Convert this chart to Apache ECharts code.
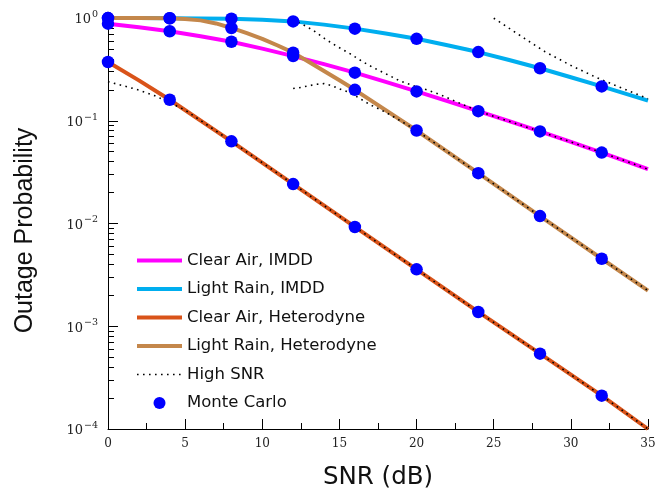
<!DOCTYPE html>
<html>
<head>
<meta charset="utf-8">
<script src="https://cdn.jsdelivr.net/npm/echarts@6/dist/echarts.min.js"></script>
<style>
html,body{margin:0;padding:0;background:#fff;}
#chart{width:670px;height:495px;}
</style>
</head>
<body>
<div id="chart"></div>
<script>
// ---- data ----
const snrMC = [0, 4, 8, 12, 16, 20, 24, 28, 32];
const mcClearImdd = [0.881, 0.743, 0.587, 0.426, 0.294, 0.193, 0.124, 0.0787, 0.0490];
const mcRainImdd  = [0.998, 0.995, 0.985, 0.927, 0.788, 0.627, 0.466, 0.324, 0.216];
const mcClearHet  = [0.373, 0.160, 0.0630, 0.0242, 0.00925, 0.00358, 0.001377, 0.000541, 0.000211];
const mcRainHet   = [0.998, 0.995, 0.80, 0.46, 0.200, 0.0804, 0.0309, 0.0118, 0.00454];

const snrClearImdd = [0, 2, 4, 6, 8, 10, 12, 14, 16, 18, 20, 22, 24, 26, 28, 30, 32, 35];
const clearImdd = [0.881, 0.812, 0.743, 0.664, 0.587, 0.503, 0.426, 0.356, 0.294, 0.239, 0.193, 0.155, 0.124, 0.0990, 0.0787, 0.0622, 0.0490, 0.0338];
const snrRainImdd = [0, 2, 4, 6, 8, 10, 12, 14, 16, 18, 20, 22, 24, 26, 28, 30, 32, 35];
const rainImdd  = [0.999, 0.998, 0.995, 0.991, 0.985, 0.962, 0.927, 0.862, 0.788, 0.706, 0.627, 0.543, 0.466, 0.390, 0.324, 0.265, 0.216, 0.157];
const snrClearHet = [0, 2, 4, 8, 12, 16, 20, 24, 28, 32, 35];
const clearHet  = [0.373, 0.247, 0.160, 0.0630, 0.0242, 0.00925, 0.00358, 0.001377, 0.000541, 0.000211, 0.000100];
const snrRainHet = [0, 2, 4, 5, 6, 7, 8, 9, 10, 11, 12, 13, 14, 15, 16, 20, 24, 28, 32, 35];
const rainHet   = [0.999, 0.999, 0.995, 0.980, 0.948, 0.885, 0.80, 0.712, 0.627, 0.540, 0.46, 0.375, 0.305, 0.248, 0.200, 0.0804, 0.0309, 0.0118, 0.00454, 0.00222];

// High SNR approximations (dotted)
const hsClearHetX = [0, 1, 2, 3, 4, 5, 8, 12, 16, 20, 24, 28, 32, 35];
const hsClearHetY = [0.240, 0.219, 0.199, 0.176, 0.150, 0.127, 0.063, 0.0242, 0.00925, 0.00358, 0.001377, 0.000541, 0.000211, 0.000100];
const hsRainHetX = [12, 12.5, 13, 13.5, 14, 14.5, 15, 15.5, 16, 17, 18, 19, 20, 24, 28, 32, 35];
const hsRainHetY = [0.206, 0.211, 0.219, 0.226, 0.230, 0.220, 0.204, 0.192, 0.176, 0.143, 0.121, 0.099, 0.0804, 0.0309, 0.0118, 0.00454, 0.00222];
const hsClearImddX = [12, 12.44, 13.3, 14.06, 14.82, 15.68, 16.44, 17.19, 18.06, 18.92, 19.79, 20.66, 21.5, 22.5, 24, 28, 32, 35];
const hsClearImddY = [0.975, 0.895, 0.759, 0.627, 0.532, 0.450, 0.381, 0.329, 0.284, 0.244, 0.219, 0.200, 0.180, 0.155, 0.124, 0.0787, 0.049, 0.0338];
const hsRainImddX = [25, 25.16, 26.71, 28.32, 29.96, 31.63, 33.36, 35];
const hsRainImddY = [0.995, 0.963, 0.675, 0.470, 0.348, 0.265, 0.206, 0.164];

const xTicks = [0, 5, 10, 15, 20, 25, 30, 35];
const yDecades = [1e-4, 1e-3, 1e-2, 1e-1, 1];

const names = ['Clear Air, IMDD', 'Light Rain, IMDD', 'Clear Air, Heterodyne', 'Light Rain, Heterodyne', 'High SNR', 'Monte Carlo'];
const colors = ['#FF00FF', '#00AEEF', '#D95319', '#C4874B', '#000000', '#0000FF'];

// ---- build ----
const zip = (xs, ys) => xs.map((x, i) => [x, ys[i]]);
// minor tick positions (2..9 per decade), expressed in decades for an overlay value axis
const minorYExp = [];
yDecades.slice(0, -1).forEach(d => { for (let k = 2; k <= 9; k++) minorYExp.push(Math.log10(d * k)); });

const solid = (name, xs, ys, color) => ({
  name, type: 'line', data: zip(xs, ys), symbol: 'none', smooth: false,
  clip: false, z: 2, lineStyle: { color, width: 4, join: 'round', cap: 'butt' },
  itemStyle: { color, opacity: 0 }
});
const dotted = (xs, ys) => ({
  name: 'High SNR', type: 'line', data: zip(xs, ys), symbol: 'none', smooth: false,
  clip: false, z: 3, lineStyle: { color: '#000', width: 1.6, type: [1.6, 4.4] },
  itemStyle: { color: '#000', opacity: 0 }
});
const mcData = [];
[mcClearImdd, mcRainImdd, mcClearHet, mcRainHet].forEach(arr => arr.forEach((v, i) => mcData.push([snrMC[i], v])));

const supFmt = v => {
  const e = Math.round(Math.log10(v));
  return '{b|10}{s|' + (e < 0 ? '\u2212' + (-e) : e) + '}';
};

const chart = echarts.init(document.getElementById('chart'), null, { renderer: 'canvas' });
chart.setOption({
  animation: false,
  backgroundColor: '#fff',
  grid: { left: 108, right: 22, top: 18, bottom: 62 },
  legend: {
    orient: 'vertical', left: 135, top: 252, padding: 0,
    itemWidth: 45, itemHeight: 12, itemGap: 11.5, itemTextGap: 8,
    data: names,
    textStyle: { fontFamily: 'DejaVu Sans', fontSize: 16.5, color: '#111' },
    lineStyle: { width: 'inherit' }
  },
  xAxis: {
    type: 'value', min: 0, max: 35, interval: 5,
    name: 'SNR (dB)', nameLocation: 'middle', nameGap: 36,
    nameTextStyle: { fontFamily: 'DejaVu Sans', fontSize: 24.5, color: '#111' },
    axisLine: { show: true, onZero: false, lineStyle: { color: '#000', width: 1 } },
    axisTick: { show: true, inside: true, length: 10, lineStyle: { color: '#000', width: 1 } },
    minorTick: { show: true, splitNumber: 2, length: 6, lineStyle: { color: '#000', width: 1 } },
    axisLabel: { margin: 9, fontFamily: 'DejaVu Serif', fontSize: 12, color: '#222',
      customValues: xTicks },
    splitLine: { show: false }
  },
  yAxis: [{
    type: 'log', logBase: 10, min: 1e-4, max: 1,
    name: 'Outage Probability', nameLocation: 'middle', nameGap: 70, nameRotate: 90,
    nameTextStyle: { fontFamily: 'Liberation Sans', fontSize: 25, color: '#111', padding: [0, 14, 0, 0] },
    axisLine: { show: true, onZero: false, lineStyle: { color: '#000', width: 1 } },
    axisTick: { show: true, inside: true, length: 10, lineStyle: { color: '#000', width: 1 } },
    axisLabel: {
      margin: 10, formatter: supFmt, color: '#222',
      rich: {
        b: { fontFamily: 'DejaVu Serif', fontSize: 13, color: '#222', padding: [4, 0, 0, 0] },
        s: { fontFamily: 'DejaVu Serif', fontSize: 9.5, color: '#222', verticalAlign: 'top', lineHeight: 9.5, padding: [0, 0, 0, 1] }
      }
    },
    splitLine: { show: false }
  }, {
    type: 'value', min: -4, max: 0, position: 'left',
    axisLine: { show: false },
    axisTick: { show: true, inside: true, length: 6, customValues: minorYExp, lineStyle: { color: '#000', width: 1 } },
    axisLabel: { show: false },
    splitLine: { show: false }
  }],
  series: [
    solid(names[0], snrClearImdd, clearImdd, colors[0]),
    solid(names[1], snrRainImdd, rainImdd, colors[1]),
    solid(names[2], snrClearHet, clearHet, colors[2]),
    solid(names[3], snrRainHet, rainHet, colors[3]),
    dotted(hsClearHetX, hsClearHetY),
    dotted(hsRainHetX, hsRainHetY),
    dotted(hsClearImddX, hsClearImddY),
    dotted(hsRainImddX, hsRainImddY),
    {
      name: 'Monte Carlo', type: 'scatter', data: mcData, symbol: 'circle', symbolSize: 12.5,
      clip: false, z: 4, itemStyle: { color: colors[5], opacity: 1 }
    }
  ]
});
</script>
</body>
</html>
